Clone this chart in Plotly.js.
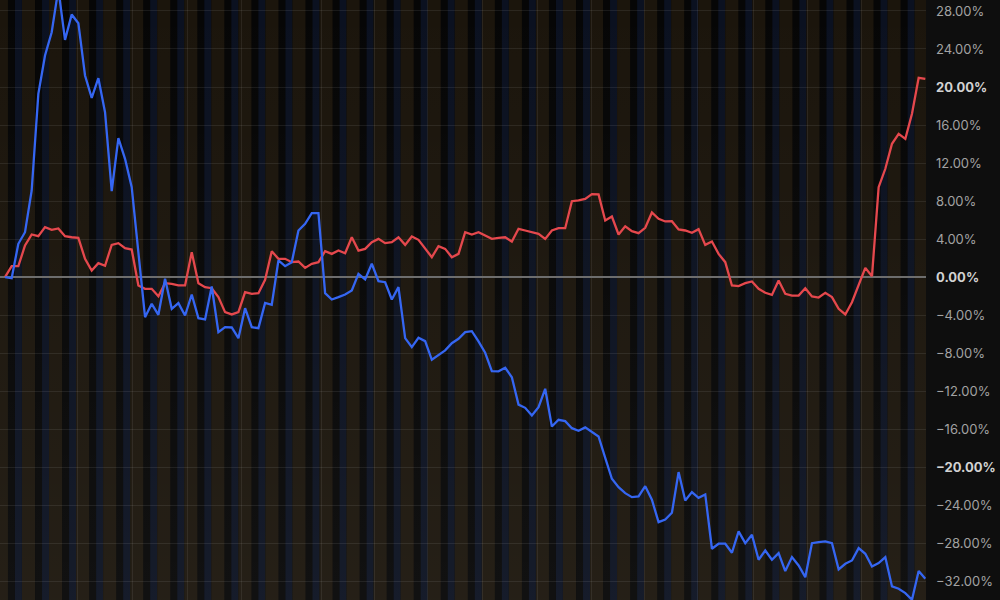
<!DOCTYPE html>
<html>
<head>
<meta charset="utf-8">
<script src="https://cdn.plot.ly/plotly-3.0.1.min.js"></script>
<style>
  html, body { margin: 0; padding: 0; background: #0e0e0e; }
  #chart { width: 1000px; height: 600px; }
</style>
</head>
<body>
<div id="chart"></div>
<script>
// ---- data (percent change, one value per period) ----
const redSeries = [
  0, 1.16, 1.16, 3.33, 4.49, 4.31, 5.26, 4.98, 5.12, 4.31,
  4.2, 4.14, 1.93, 0.7, 1.47, 1.2, 3.4, 3.58, 3.05, 2.91,
  -0.87, -1.22, -1.22, -2.0, -0.63, -0.7, -0.87, -0.87, 2.63, -0.63,
  -1.05, -1.16, -2.1, -3.68, -3.92, -3.68, -1.58, -1.75, -1.68, -0.28,
  2.73, 1.93, 1.93, 1.58, 1.65, 0.98, 1.41, 1.58, 2.73, 2.45,
  2.8, 2.52, 4.2, 2.8, 2.98, 3.68, 4.03, 3.58, 3.68, 4.2,
  3.4, 4.28, 3.93, 2.98, 2.1, 3.26, 2.98, 2.1, 2.45, 4.73,
  4.49, 4.73, 4.38, 4.03, 4.14, 4.2, 3.75, 5.09, 4.91, 4.73,
  4.56, 4.03, 4.91, 5.15, 5.15, 7.99, 8.07, 8.24, 8.73, 8.7,
  5.96, 6.38, 4.49, 5.36, 4.84, 4.63, 5.19, 6.8, 6.14, 5.86,
  5.89, 5.02, 4.91, 4.67, 5.05, 3.4, 3.75, 2.45, 1.58, -0.87,
  -0.94, -0.63, -0.45, -1.22, -1.64, -1.86, -0.35, -1.75, -1.93, -1.93,
  -1.16, -2.03, -2.14, -1.64, -2.1, -3.33, -3.92, -2.63, -0.87, 0.98,
  0.1, 9.46, 11.4, 14.03, 15.08, 14.55, 17.18, 20.97, 20.86
];
const blueSeries = [
  0, -0.1, 3.51, 4.73, 9.12, 19.28, 23.31, 25.76, 30.3, 24.96,
  27.62, 26.71, 21.21, 18.86, 20.93, 17.35, 9.04, 14.62, 12.45, 9.46,
  2.6, -4.21, -2.8, -3.96, -0.17, -3.33, -2.73, -4.03, -1.82, -4.31,
  -4.45, -0.98, -5.78, -5.26, -5.29, -6.41, -3.26, -5.26, -5.36, -2.7,
  -2.9, 1.76, 1.16, 1.58, 4.91, 5.61, 6.73, 6.73, -1.68, -2.35,
  -2.1, -1.82, -1.4, 0.35, -0.24, 1.41, -0.42, -0.53, -2.35, -1.05,
  -6.41, -7.36, -6.37, -6.73, -8.69, -8.16, -7.7, -6.94, -6.48, -5.78,
  -5.68, -6.76, -7.95, -9.88, -9.9, -9.53, -10.52, -13.4, -13.74, -14.54,
  -13.67, -11.74, -15.7, -15.0, -15.14, -15.88, -16.15, -15.8, -16.3, -16.75,
  -19.0, -21.2, -22.08, -22.71, -23.13, -23.06, -21.98, -23.41, -25.76, -25.48,
  -24.78, -20.5, -23.48, -22.6, -23.2, -22.85, -28.56, -28.03, -28.03, -28.98,
  -26.74, -27.97, -27.09, -29.72, -28.74, -29.72, -29.02, -30.91, -29.44, -30.32,
  -31.55, -27.97, -27.86, -27.79, -27.97, -30.73, -30.14, -29.79, -28.49, -29.09,
  -30.42, -30.07, -29.44, -32.52, -32.77, -33.23, -33.92, -30.91, -31.71
];
const periods = redSeries.map((_, i) => i);
const yTickValues = [28, 24, 20, 16, 12, 8, 4, 0, -4, -8, -12, -16, -20, -24, -28, -32];
const boldTicks = [20, 0, -20];
const xGridPositions = [10.94, 19.19, 27.29, 35.53, 47.53, 55.47, 63.42, 71.66, 79.91, 88.01, 95.95, 103.9, 112.2, 120.4, 128.5];

// ---- tick labels ----
const yTickText = yTickValues.map(v => {
  const s = (v < 0 ? '\u2212' : '') + Math.abs(v).toFixed(2) + '%';
  return boldTicks.includes(v) ? '<b><span style="color:#d2d2d2">' + s + '</span></b>' : s;
});

// ---- background session bands (decoration) ----
const bandPeriod = 4.056, bandStart = 4.5;
const shapes = [];
for (let k = -2; k <= 35; k++) {
  const s = bandStart + k * bandPeriod;
  shapes.push({type: 'rect', xref: 'x', yref: 'paper', x0: s + 1.05, x1: s + 2.1, y0: 0, y1: 1,
    fillcolor: '#0b1120', line: {width: 0}, layer: 'below'});
  shapes.push({type: 'rect', xref: 'x', yref: 'paper', x0: s + 2.1, x1: s + bandPeriod, y0: 0, y1: 1,
    fillcolor: '#1b150c', line: {width: 0}, layer: 'below'});
}

const xMin = -0.75, xMax = 138.1, yMin = -33.95, yMax = 29.15;

const traces = [
  {
    x: [xMin, xMax, xMax, xMin, xMin], y: [yMin, yMin, yMax, yMax, yMin],
    type: 'scatter', mode: 'none', fill: 'toself', hoverinfo: 'skip', showlegend: false,
    fillgradient: {type: 'vertical', colorscale: [[0, 'rgba(255,255,255,0.045)'], [1, 'rgba(255,255,255,0)']]}
  },
  {
    x: periods, y: redSeries, type: 'scatter', mode: 'lines',
    line: {color: '#e5484d', width: 2.3}, showlegend: false
  },
  {
    x: periods, y: blueSeries, type: 'scatter', mode: 'lines',
    line: {color: '#3566f2', width: 2.3}, showlegend: false
  }
];

const layout = {
  width: 1000, height: 600,
  margin: {l: 0, r: 74, t: 0, b: 0, pad: 0},
  paper_bgcolor: '#0e0e0e',
  plot_bgcolor: '#060606',
  showlegend: false,
  shapes: shapes,
  xaxis: {
    range: [xMin, xMax], showticklabels: false, ticks: '',
    tickmode: 'array', tickvals: xGridPositions,
    showgrid: true, gridcolor: 'rgba(255,255,255,0.07)', gridwidth: 1,
    zeroline: false, showline: false, fixedrange: true
  },
  yaxis: {
    side: 'right', range: [yMin, yMax],
    tickmode: 'array', tickvals: yTickValues, ticktext: yTickText,
    ticks: '', ticklabelstandoff: 9,
    tickfont: {family: 'Inter, Roboto, sans-serif', size: 13, color: '#a2a2a2'},
    showgrid: true, gridcolor: 'rgba(255,255,255,0.08)', gridwidth: 1,
    zeroline: true, zerolinecolor: '#6a6a6a', zerolinewidth: 1.5,
    showline: false, fixedrange: true
  }
};

Plotly.newPlot('chart', traces, layout, {displayModeBar: false, staticPlot: true});
</script>
</body>
</html>
